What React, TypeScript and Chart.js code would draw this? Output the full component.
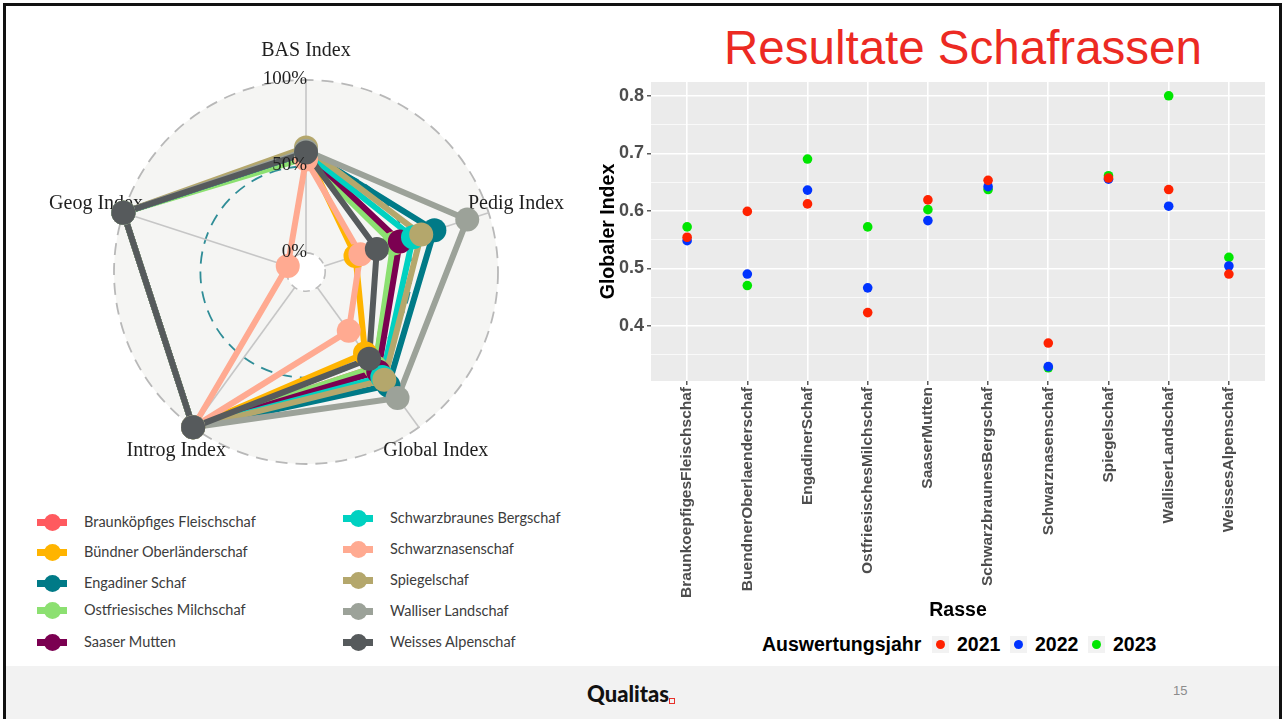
import React, { useEffect, useRef } from "react";
import { Chart, registerables } from "chart.js";

Chart.register(...registerables);

// ---------- Radar (left) data ----------
const radarAxes = ["BAS Index", "Pedig Index", "Global Index", "Introg Index", "Geog Index"];
const radarTickValues = [0, 0.5, 1];
const radarTickLabels = ["0%", "50%", "100%"];
const breedNames = [
  "Braunköpfiges Fleischschaf",
  "Bündner Oberländerschaf",
  "Engadiner Schaf",
  "Ostfriesisches Milchschaf",
  "Saaser Mutten",
  "Schwarzbraunes Bergschaf",
  "Schwarznasenschaf",
  "Spiegelschaf",
  "Walliser Landschaf",
  "Weisses Alpenschaf",
];
const breedColors = [
  "#FF5A5F", "#FFB400", "#007A87", "#8CE071", "#7B0051",
  "#00D1C1", "#FFAA91", "#B4A76C", "#9CA299", "#565A5C",
];
const basIndex = [0.58, 0.58, 0.59, 0.55, 0.58, 0.58, 0.54, 0.61, 0.59, 0.58];
const pedigIndex = [0.43, 0.19, 0.67, 0.42, 0.46, 0.54, 0.22, 0.59, 0.87, 0.32];
const globalIndex = [0.57, 0.47, 0.70, 0.57, 0.60, 0.64, 0.31, 0.66, 0.79, 0.51];
const introgIndex = [1, 1, 1, 1, 1, 1, 1, 1, 1, 1];
const geogIndex = [1, 1, 1, 1, 1, 1, 0, 1, 1, 1];

// ---------- Scatter (right) data ----------
const rasseLabels = [
  "BraunkoepfigesFleischschaf",
  "BuendnerOberlaenderschaf",
  "EngadinerSchaf",
  "OstfriesischesMilchschaf",
  "SaaserMutten",
  "SchwarzbraunesBergschaf",
  "Schwarznasenschaf",
  "Spiegelschaf",
  "WalliserLandschaf",
  "WeissesAlpenschaf",
];
const years = ["2021", "2022", "2023"];
const yearColors = ["#ff2200", "#0033ff", "#00e600"];
const values2021 = [0.554, 0.599, 0.612, 0.423, 0.619, 0.653, 0.370, 0.657, 0.637, 0.490];
const values2022 = [0.548, 0.490, 0.636, 0.466, 0.583, 0.642, 0.329, 0.655, 0.608, 0.504];
const values2023 = [0.572, 0.470, 0.690, 0.572, 0.602, 0.637, 0.327, 0.661, 0.800, 0.519];
const yTickValues = [0.35, 0.4, 0.45, 0.5, 0.55, 0.6, 0.65, 0.7, 0.75, 0.8];

const SANS = '"Liberation Sans", Arial, Helvetica, sans-serif';
const SERIF = '"Liberation Serif", "Times New Roman", serif';

function RadarChart() {
  const ref = useRef<HTMLCanvasElement>(null);
  useEffect(() => {
    const seriesFor = (i: number) => [basIndex[i], pedigIndex[i], globalIndex[i], introgIndex[i], geogIndex[i]];
    const lineSets = breedNames.map((name, i) => ({
      label: name,
      data: seriesFor(i),
      borderColor: breedColors[i],
      backgroundColor: breedColors[i],
      borderWidth: 6,
      borderJoinStyle: "round",
      pointRadius: 0,
      pointHoverRadius: 0,
      fill: false,
      tension: 0,
      order: 29 - i,
      clip: false,
    }));
    const pointSets = breedNames.map((name, i) => ({
      label: name + " (points)",
      data: seriesFor(i),
      showLine: false,
      borderWidth: 0,
      borderColor: breedColors[i],
      backgroundColor: breedColors[i],
      pointRadius: 12,
      pointHoverRadius: 12,
      pointBackgroundColor: breedColors[i],
      pointBorderWidth: 0,
      fill: false,
      order: 9 - i,
      clip: false,
    }));
    const decor = {
      id: "radarDecor",
      beforeDatasetsDraw(chart: any) {
        const s = chart.scales.r;
        const ctx = chart.ctx;
        ctx.save();
        const r0 = s.getDistanceFromCenterForValue(0);
        ctx.beginPath();
        ctx.arc(s.xCenter, s.yCenter, r0, 0, Math.PI * 2);
        ctx.fillStyle = "#ffffff";
        ctx.fill();
        ctx.setLineDash([7, 6]);
        ctx.strokeStyle = "#bdbdbd";
        ctx.lineWidth = 1.6;
        ctx.stroke();
        ctx.setLineDash([]);
        ctx.font = "20px " + SERIF;
        ctx.fillStyle = "#1f1f1f";
        ctx.textAlign = "center";
        ctx.textBaseline = "middle";
        radarAxes.forEach((lab, i) => {
          const p = s.getPointPosition(i, s.drawingArea * 1.15);
          ctx.fillText(lab, p.x, p.y);
        });
        ctx.restore();
      },
      afterDatasetsDraw(chart: any) {
        const s = chart.scales.r;
        const ctx = chart.ctx;
        ctx.save();
        ctx.font = "19px " + SERIF;
        ctx.fillStyle = "#1f1f1f";
        ctx.textAlign = "right";
        ctx.textBaseline = "middle";
        radarTickValues.forEach((v, k) => {
          const r = s.getDistanceFromCenterForValue(v);
          ctx.fillText(radarTickLabels[k], s.xCenter + 1, s.yCenter - r - 1);
        });
        ctx.restore();
      },
    };
    const chart = new Chart(ref.current as HTMLCanvasElement, {
      type: "radar",
      data: { labels: radarAxes, datasets: [...lineSets, ...pointSets] as any },
      options: {
        animation: false,
        responsive: false,
        events: [],
        layout: { padding: { left: 94, right: 92, top: 55, bottom: 16 } },
        plugins: { legend: { display: false }, tooltip: { enabled: false } },
        scales: {
          r: {
            min: -1 / 9,
            max: 1,
            afterBuildTicks: (s: any) => {
              s.ticks = radarTickValues.map((v) => ({ value: v }));
            },
            ticks: { display: false },
            pointLabels: { display: false },
            backgroundColor: "#f5f5f3",
            grid: {
              circular: true,
              color: (c: any) =>
                c.tick && c.tick.value === 0.5
                  ? "#2f8d97"
                  : c.tick && c.tick.value === 0
                  ? "rgba(0,0,0,0)"
                  : "#b8b8b8",
              lineWidth: 1.8,
            },
            border: { dash: [12, 8] },
            angleLines: { color: "#c6c6c6", lineWidth: 1.6 },
          },
        } as any,
      } as any,
      plugins: [decor],
    });
    return () => chart.destroy();
  }, []);
  return (
    <canvas
      ref={ref}
      width={570}
      height={455}
      style={{ position: "absolute", left: 20, top: 25, width: 570, height: 455 }}
    />
  );
}

function ScatterChart() {
  const ref = useRef<HTMLCanvasElement>(null);
  useEffect(() => {
    const yearValues = [values2021, values2022, values2023];
    const isMajor = (v: number) => Math.round(v * 100) % 10 === 0;
    const panel = {
      id: "panelBg",
      beforeDraw(chart: any) {
        const { ctx, chartArea } = chart;
        ctx.save();
        ctx.fillStyle = "#ebebeb";
        ctx.fillRect(chartArea.left, chartArea.top, chartArea.right - chartArea.left, chartArea.bottom - chartArea.top);
        ctx.restore();
      },
    };
    const chart = new Chart(ref.current as HTMLCanvasElement, {
      type: "scatter",
      data: {
        datasets: years.map((y, k) => ({
          label: y,
          data: rasseLabels.map((_, i) => ({ x: i, y: yearValues[k][i] })),
          pointRadius: 4.8,
          pointHoverRadius: 4.8,
          pointBackgroundColor: yearColors[k],
          backgroundColor: yearColors[k],
          pointBorderWidth: 0,
          showLine: false,
        })),
      },
      options: {
        animation: false,
        responsive: false,
        events: [],
        layout: { padding: { top: 7, right: 5, left: 0, bottom: 0 } },
        plugins: { legend: { display: false }, tooltip: { enabled: false } },
        scales: {
          x: {
            type: "linear",
            min: -0.6,
            max: 9.6,
            afterBuildTicks: (s: any) => {
              s.ticks = rasseLabels.map((_, i) => ({ value: i }));
            },
            afterFit: (s: any) => {
              s.height = 246;
              s.paddingLeft = 0;
              s.paddingRight = 0;
            },
            ticks: {
              autoSkip: false,
              maxRotation: 90,
              minRotation: 90,
              padding: 2,
              color: "#4d4d4d",
              font: { family: SANS, size: 15.5, weight: "bold" },
              callback: (v: any) => rasseLabels[v] ?? "",
            },
            grid: { color: "#ffffff", lineWidth: 1.6, tickColor: "#333333", tickLength: 4, tickWidth: 1.2 },
            border: { display: false },
            title: {
              display: true,
              text: "Rasse",
              color: "#000000",
              font: { family: SANS, size: 19.5, weight: "bold" },
              padding: { top: 0, bottom: 5 },
            },
          },
          y: {
            min: 0.304,
            max: 0.824,
            afterBuildTicks: (s: any) => {
              s.ticks = yTickValues.map((v) => ({ value: v }));
            },
            afterFit: (s: any) => {
              s.width = 61;
              s.paddingTop = 0;
              s.paddingBottom = 0;
            },
            ticks: {
              autoSkip: false,
              padding: 3,
              color: "#4d4d4d",
              font: { family: SANS, size: 18, weight: "bold" },
              callback: (v: any) => (isMajor(v) ? Number(v).toFixed(1) : ""),
            },
            grid: {
              color: "#ffffff",
              lineWidth: (c: any) => (c.tick && isMajor(c.tick.value) ? 1.6 : 0.7),
              tickColor: (c: any) => (c.tick && isMajor(c.tick.value) ? "#333333" : "rgba(0,0,0,0)"),
              tickLength: 4,
              tickWidth: 1.2,
            },
            border: { display: false },
            title: {
              display: true,
              text: "Globaler Index",
              color: "#000000",
              font: { family: SANS, size: 19.5, weight: "bold" },
              padding: { top: 7, bottom: 0 },
            },
          },
        } as any,
      } as any,
      plugins: [panel],
    });
    return () => chart.destroy();
  }, []);
  return (
    <canvas
      ref={ref}
      width={680}
      height={552}
      style={{ position: "absolute", left: 590, top: 75, width: 680, height: 552 }}
    />
  );
}

function RadarLegend() {
  const colX = [37, 343];
  const textX = [84, 390];
  const rowY = [
    [522, 552, 583, 610, 642],
    [518, 549, 580, 611, 642],
  ];
  return (
    <>
      {breedNames.map((name, i) => {
        const c = i < 5 ? 0 : 1;
        const y = rowY[c][i % 5];
        return (
          <React.Fragment key={name}>
            <div
              style={{
                position: "absolute",
                left: colX[c],
                top: y - 3.5,
                width: 30,
                height: 7,
                background: breedColors[i],
              }}
            />
            <div
              style={{
                position: "absolute",
                left: colX[c] + 15 - 8.5,
                top: y - 8.5,
                width: 17,
                height: 17,
                borderRadius: "50%",
                background: breedColors[i],
              }}
            />
            <div
              style={{
                position: "absolute",
                left: textX[c],
                top: y - 10,
                height: 20,
                lineHeight: "20px",
                fontFamily: "Lato, 'Open Sans', sans-serif",
                fontSize: 14.5,
                color: "#3c3c3c",
                whiteSpace: "nowrap",
              }}
            >
              {name}
            </div>
          </React.Fragment>
        );
      })}
    </>
  );
}

function ScatterLegend() {
  const keyX = [940, 1018, 1096];
  const y = 644;
  const textStyle: React.CSSProperties = {
    position: "absolute",
    top: y - 12,
    height: 24,
    lineHeight: "24px",
    fontFamily: SANS,
    fontWeight: "bold",
    fontSize: 19.5,
    color: "#000",
    whiteSpace: "nowrap",
  };
  return (
    <>
      <div style={{ ...textStyle, left: 762 }}>Auswertungsjahr</div>
      {years.map((yr, k) => (
        <React.Fragment key={yr}>
          <div
            style={{
              position: "absolute",
              left: keyX[k] - 8.5,
              top: y - 8.5,
              width: 17,
              height: 17,
              background: "#f2f2f2",
            }}
          />
          <div
            style={{
              position: "absolute",
              left: keyX[k] - 4.5,
              top: y - 4.5,
              width: 9,
              height: 9,
              borderRadius: "50%",
              background: yearColors[k],
            }}
          />
          <div style={{ ...textStyle, left: keyX[k] + 17 }}>{yr}</div>
        </React.Fragment>
      ))}
    </>
  );
}

export default function App() {
  return (
    <div
      style={{
        position: "absolute",
        left: 0,
        top: 0,
        width: 1283,
        height: 719,
        background: "#ffffff",
        overflow: "hidden",
        fontFamily: SANS,
      }}
    >
      <div
        style={{
          position: "absolute",
          left: 6,
          top: 666,
          width: 1273,
          height: 60,
          background: "#f2f2f2",
        }}
      />
      <div
        style={{
          position: "absolute",
          left: 3,
          top: 3,
          width: 1273,
          height: 740,
          borderTop: "3px solid #111",
          borderLeft: "3px solid #111",
          borderRight: "3px solid #111",
        }}
      />
      <div
        style={{
          position: "absolute",
          left: 724,
          top: 24,
          fontFamily: SANS,
          fontSize: 47.5,
          lineHeight: "47.5px",
          color: "#ec2a23",
          whiteSpace: "nowrap",
        }}
      >
        Resultate Schafrassen
      </div>
      <RadarChart />
      <RadarLegend />
      <ScatterChart />
      <ScatterLegend />
      <div
        style={{
          position: "absolute",
          left: 587,
          top: 680,
          height: 28,
          lineHeight: "28px",
          fontFamily: "Lato, Roboto, sans-serif",
          fontWeight: 900,
          fontSize: 22,
          color: "#111",
          whiteSpace: "nowrap",
        }}
      >
        Qualitas
      </div>
      <div
        style={{
          position: "absolute",
          left: 669,
          top: 698,
          width: 4,
          height: 4,
          border: "1px solid #e8312a",
        }}
      />
      <div
        style={{
          position: "absolute",
          left: 1173,
          top: 683,
          lineHeight: "16px",
          fontFamily: SANS,
          fontSize: 13,
          color: "#8c8c8c",
        }}
      >
        15
      </div>
    </div>
  );
}
